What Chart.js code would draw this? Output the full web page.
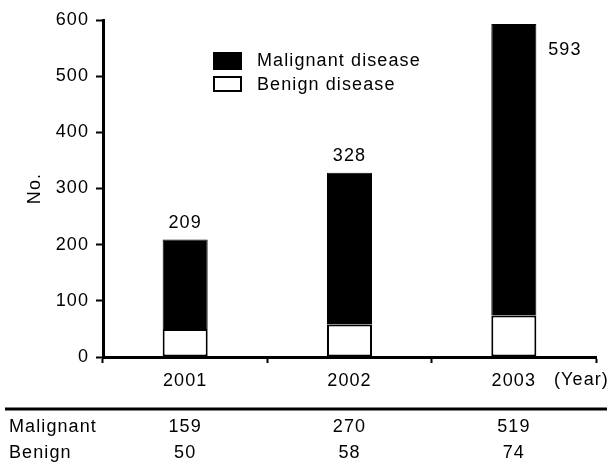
<!DOCTYPE html>
<html><head><meta charset="utf-8">
<script src="https://cdn.jsdelivr.net/npm/chart.js@4"></script>
<style>html,body{margin:0;padding:0;background:#fff}canvas{display:block}</style>
</head><body>
<canvas id="c" width="611" height="473"></canvas>
<script>
const years = ['2001', '2002', '2003'];
const malignant = [159, 270, 519];
const benign = [50, 58, 74];
const totals = [209, 328, 593];
const yTicks = [0, 100, 200, 300, 400, 500, 600];
const seriesNames = ['Malignant disease', 'Benign disease'];
const rowNames = ['Malignant', 'Benign'];
const yearUnit = '(Year)';
const yTitle = 'No.';

const FAMILY = "'Liberation Sans', Arial, sans-serif";
const FSIZE = 18;
const SPACING = '1.1px';
const FONTSTR = FSIZE + 'px ' + FAMILY;

const spacingPlugin = {
  id: 'spacing',
  beforeUpdate(chart) { chart.ctx.letterSpacing = SPACING; },
  beforeLayout(chart) { chart.ctx.letterSpacing = SPACING; },
  beforeDraw(chart) { chart.ctx.letterSpacing = SPACING; }
};

const extrasPlugin = {
  id: 'extras',
  afterDraw(chart) {
    const ctx = chart.ctx;
    const xs = chart.scales.x;
    const area = chart.chartArea;
    ctx.save();
    ctx.letterSpacing = SPACING;
    ctx.font = FONTSTR;
    ctx.fillStyle = '#000';
    ctx.textBaseline = 'middle';

    // totals above stacks
    const topMeta = chart.getDatasetMeta(1);
    topMeta.data.forEach((bar, i) => {
      const topY = bar.y;
      ctx.textAlign = 'center';
      if (topY - 30 < area.top) {
        ctx.fillText(String(totals[i]), bar.x + 51, topY + 26);
      } else {
        ctx.fillText(String(totals[i]), bar.x, topY - 17);
      }
    });

    // legend
    const lx = 213, ly = [52, 76];
    const ds = chart.data.datasets;
    const legendOrder = [1, 0];
    legendOrder.forEach((di, k) => {
      const d = ds[di];
      const h = k === 0 ? 18 : 16;
      ctx.fillStyle = d.backgroundColor;
      ctx.fillRect(lx, ly[k], 29, h);
      ctx.strokeStyle = '#000';
      ctx.lineWidth = 2;
      ctx.strokeRect(lx + 1, ly[k] + 1, 27, h - 2);
      ctx.fillStyle = '#000';
      ctx.textAlign = 'left';
      ctx.fillText(d.label, 257, ly[k] + 9);
    });

    // year unit
    ctx.textAlign = 'left';
    ctx.fillText(yearUnit, xs.right - 42, 380);

    // table rule
    ctx.strokeStyle = '#000';
    ctx.lineWidth = 3;
    ctx.beginPath();
    ctx.moveTo(5, 409);
    ctx.lineTo(607, 409);
    ctx.stroke();

    // table rows
    const rows = [malignant, benign];
    const rowY = [427, 453];
    rows.forEach((vals, r) => {
      ctx.textAlign = 'left';
      ctx.fillText(rowNames[r], 9, rowY[r]);
      ctx.textAlign = 'center';
      vals.forEach((v, i) => {
        ctx.fillText(String(v), xs.getPixelForValue(i), rowY[r]);
      });
    });
    ctx.restore();
  }
};

new Chart(document.getElementById('c'), {
  type: 'bar',
  data: {
    labels: years,
    datasets: [
      { label: seriesNames[1], data: benign, backgroundColor: '#ffffff', borderColor: '#000000', borderWidth: 2, borderSkipped: false },
      { label: seriesNames[0], data: malignant, backgroundColor: '#000000', borderColor: '#000000', borderWidth: 1 }
    ]
  },
  options: {
    responsive: false,
    animation: false,
    events: [],
    layout: { padding: { top: 20, right: 15, bottom: 0, left: 0 } },
    datasets: { bar: { categoryPercentage: 1, barPercentage: 0.274 } },
    plugins: { legend: { display: false }, tooltip: { enabled: false } },
    scales: {
      x: {
        stacked: true,
        grid: { drawOnChartArea: false, drawTicks: true, tickLength: 6, tickWidth: 2, tickColor: '#000', offset: true },
        border: { display: true, color: '#000', width: 3 },
        ticks: { color: '#000', font: { family: FAMILY, size: FSIZE }, padding: 7, maxRotation: 0 },
        afterFit(scale) { scale.height = 116; }
      },
      y: {
        stacked: true,
        min: 0, max: 600,
        afterBuildTicks(scale) { scale.ticks = yTicks.map(v => ({ value: v })); },
        grid: { drawOnChartArea: false, drawTicks: true, tickLength: 7, tickWidth: 2, tickColor: '#000' },
        border: { display: true, color: '#000', width: 3 },
        ticks: { color: '#000', font: { family: FAMILY, size: FSIZE }, padding: 7 },
        title: { display: true, text: yTitle, color: '#000', font: { family: FAMILY, size: 18 }, padding: { top: 24, bottom: 0 } },
        afterFit(scale) { scale.width = 103; }
      }
    }
  },
  plugins: [spacingPlugin, extrasPlugin]
});
</script>
</body></html>
